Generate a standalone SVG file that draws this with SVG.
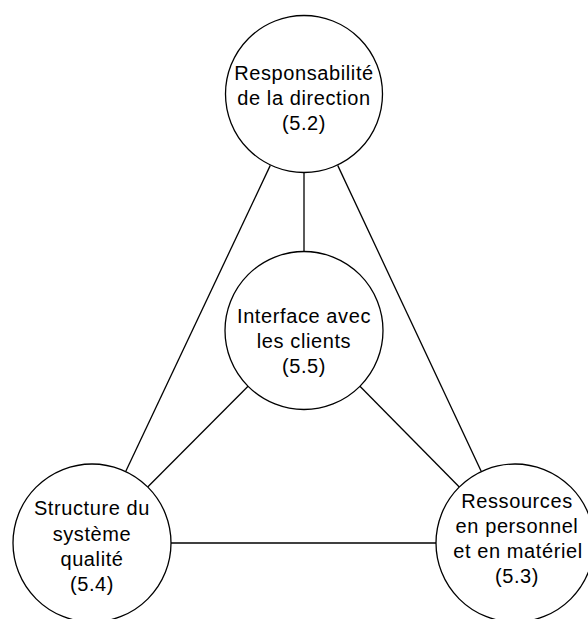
<svg xmlns="http://www.w3.org/2000/svg" width="588" height="619" viewBox="0 0 588 619">
<style>
.n{fill:#fff;stroke:#000;stroke-width:1.3}
.c line{stroke:#000;stroke-width:1.3}
text{font-family:"Liberation Sans",Arial,sans-serif;font-size:20px;letter-spacing:0.6px;fill:#000;text-anchor:middle}
</style>
<rect width="588" height="619" fill="#fff"/>
<g class="c" id="connectors">
<line x1="270.3" y1="165.4" x2="125.7" y2="471.5"/>
<line x1="337.7" y1="165.4" x2="481.3" y2="471.5"/>
<line x1="304" y1="172.5" x2="304" y2="251"/>
<line x1="248.3" y1="386" x2="147.7" y2="487"/>
<line x1="359.7" y1="386" x2="459.3" y2="487"/>
<line x1="171" y1="543" x2="436" y2="543"/>
</g>
<g id="n52"><circle class="n" cx="304" cy="94" r="78.5"/>
<text x="304" y="80">Responsabilité</text><text x="304" y="105">de la direction</text><text x="304" y="130">(5.2)</text></g>
<g id="n55"><circle class="n" cx="304" cy="330.5" r="79"/>
<text x="304" y="323">Interface avec</text><text x="304" y="348">les clients</text><text x="304" y="373">(5.5)</text></g>
<g id="n54"><circle class="n" cx="92" cy="543" r="79"/>
<text x="92" y="515">Structure du</text><text x="92" y="541">système</text><text x="92" y="566">qualité</text><text x="92" y="591">(5.4)</text></g>
<g id="n53"><circle class="n" cx="515" cy="543" r="79"/>
<text x="517" y="508">Ressources</text><text x="517" y="533">en personnel</text><text x="518" y="558">et en matériel</text><text x="517" y="583">(5.3)</text></g>
</svg>
